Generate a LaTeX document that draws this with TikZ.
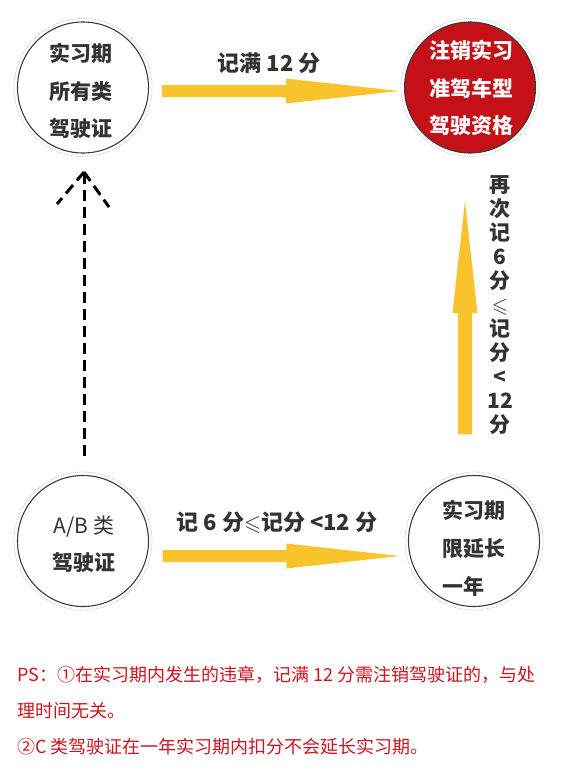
\documentclass[tikz,border=0pt]{standalone}
\usepackage{amssymb}
\usepackage{fontspec}
\setmainfont{Noto Sans CJK SC}
\usetikzlibrary{calc}
\definecolor{arrowy}{RGB}{249,196,43}
\definecolor{txt}{RGB}{51,51,51}
\definecolor{cred}{RGB}{196,16,22}
\definecolor{psred}{RGB}{204,20,30}
\definecolor{ringgray}{RGB}{195,195,195}
\definecolor{edgegray}{RGB}{60,60,60}
\begin{document}
\begin{tikzpicture}[x=1pt,y=-1pt,
  circ/.style={circle, draw=edgegray, line width=1.1pt, minimum size=131pt, inner sep=0pt},
  ring/.style={circle, draw=ringgray, densely dotted, line width=0.8pt, minimum size=138pt, inner sep=0pt},
  ctext/.style={text=txt, font=\fontsize{21}{37.5}\selectfont\bfseries, align=center, inner sep=0pt},
  lbl/.style={text=txt, font=\fontsize{22}{26}\selectfont\bfseries, inner sep=0pt},
  bigarrow/.style={fill=arrowy},
  dasharrow/.style={line width=3pt, dash pattern=on 11pt off 6pt},
  ps/.style={text=psred, font=\fontsize{18}{18}\selectfont, anchor=west, inner sep=0pt}
]
\useasboundingbox (0,0) rectangle (567,772);
% rings
\node[ring] (r1) at (83,87.5) {};
\node[ring] (r2) at (470,87.5) {};
\node[ring] (r3) at (83,541) {};
\node[ring] (r4) at (474,541) {};
% circles
\node[circ] (c1) at (83,87.5) {};
\node[circ, fill=cred] (c2) at (470,87.5) {};
\node[circ] (c3) at (83,541) {};
\node[circ] (c4) at (474,541) {};
% circle texts
\node[ctext] (t1) at (80.5,91) {实习期\\所有类\\驾驶证};
\node[ctext, text=white] (t2) at (471.5,88) {注销实习\\准驾车型\\驾驶资格};
\node[ctext, font=\fontsize{21}{37}\selectfont] (t3) at (84,544.5) {A/B 类\\\textbf{驾驶证}};
\node[ctext, align=left, font=\fontsize{21}{38}\selectfont\bfseries] (t4) at (473.5,548) {实习期\\限延长\\一年};
% horizontal arrows (c1 -> c2, c3 -> c4)
\fill[bigarrow] let \p1=([shift={(13,3.5)}]c1.east), \p2=([shift={(-5,3.5)}]c2.west) in
  (\x1,\y1-6pt) -- (\x2-113pt,\y1-6pt) -- (\x2-113pt,\y1-12.5pt) -- (\x2,\y2)
  -- (\x2-113pt,\y1+12.5pt) -- (\x2-113pt,\y1+6pt) -- (\x1,\y1+6pt) -- cycle;
\fill[bigarrow] let \p1=([shift={(13.5,15)}]c3.east), \p2=([shift={(-8.5,15)}]c4.west) in
  (\x1,\y1-6pt) -- (\x2-113pt,\y1-6pt) -- (\x2-113pt,\y1-12.5pt) -- (\x2,\y2)
  -- (\x2-113pt,\y1+12.5pt) -- (\x2-113pt,\y1+6pt) -- (\x1,\y1+6pt) -- cycle;
% vertical arrow (c4 -> c2)
\fill[bigarrow] let \p1=([shift={(-9,-40.5)}]c4.north), \p2=([shift={(-5,47.5)}]c2.south) in
  (\x1-7pt,\y1) -- (\x1-7pt,\y2-112pt) -- (\x1-12.5pt,\y2-112pt) -- (\x2,\y2)
  -- (\x1+12.5pt,\y2-112pt) -- (\x1+7pt,\y2-112pt) -- (\x1+7pt,\y1) -- cycle;
% dashed arrow
\coordinate (tip) at ([shift={(1,18.5)}]c1.south);
\draw[dasharrow] ([shift={(1,-18.5)}]c3.north) -- (tip);
\draw[dasharrow] (tip) -- ++(-27,32);
\draw[dasharrow] (tip) -- ++(25,35);
% labels
\node[lbl] (l1) at (269,63) {记满 12 分};
\node[lbl] (l2) at (277,523) {记 6 分$\leqslant$记分 <12 分};
\node[lbl, font=\fontsize{21}{24}\selectfont\bfseries, align=center] (l3) at (500,305) {再\\次\\记\\6\\分\\$\leqslant$\\记\\分\\<\\12\\分};
% PS
\node[ps] (p1) at (17,675) {PS：①在实习期内发生的违章，记满 12 分需注销驾驶证的，与处};
\node[ps] (p2) at (17,711) {理时间无关。};
\node[ps] (p3) at (17,747) {②C 类驾驶证在一年实习期内扣分不会延长实习期。};
\end{tikzpicture}
\end{document}
